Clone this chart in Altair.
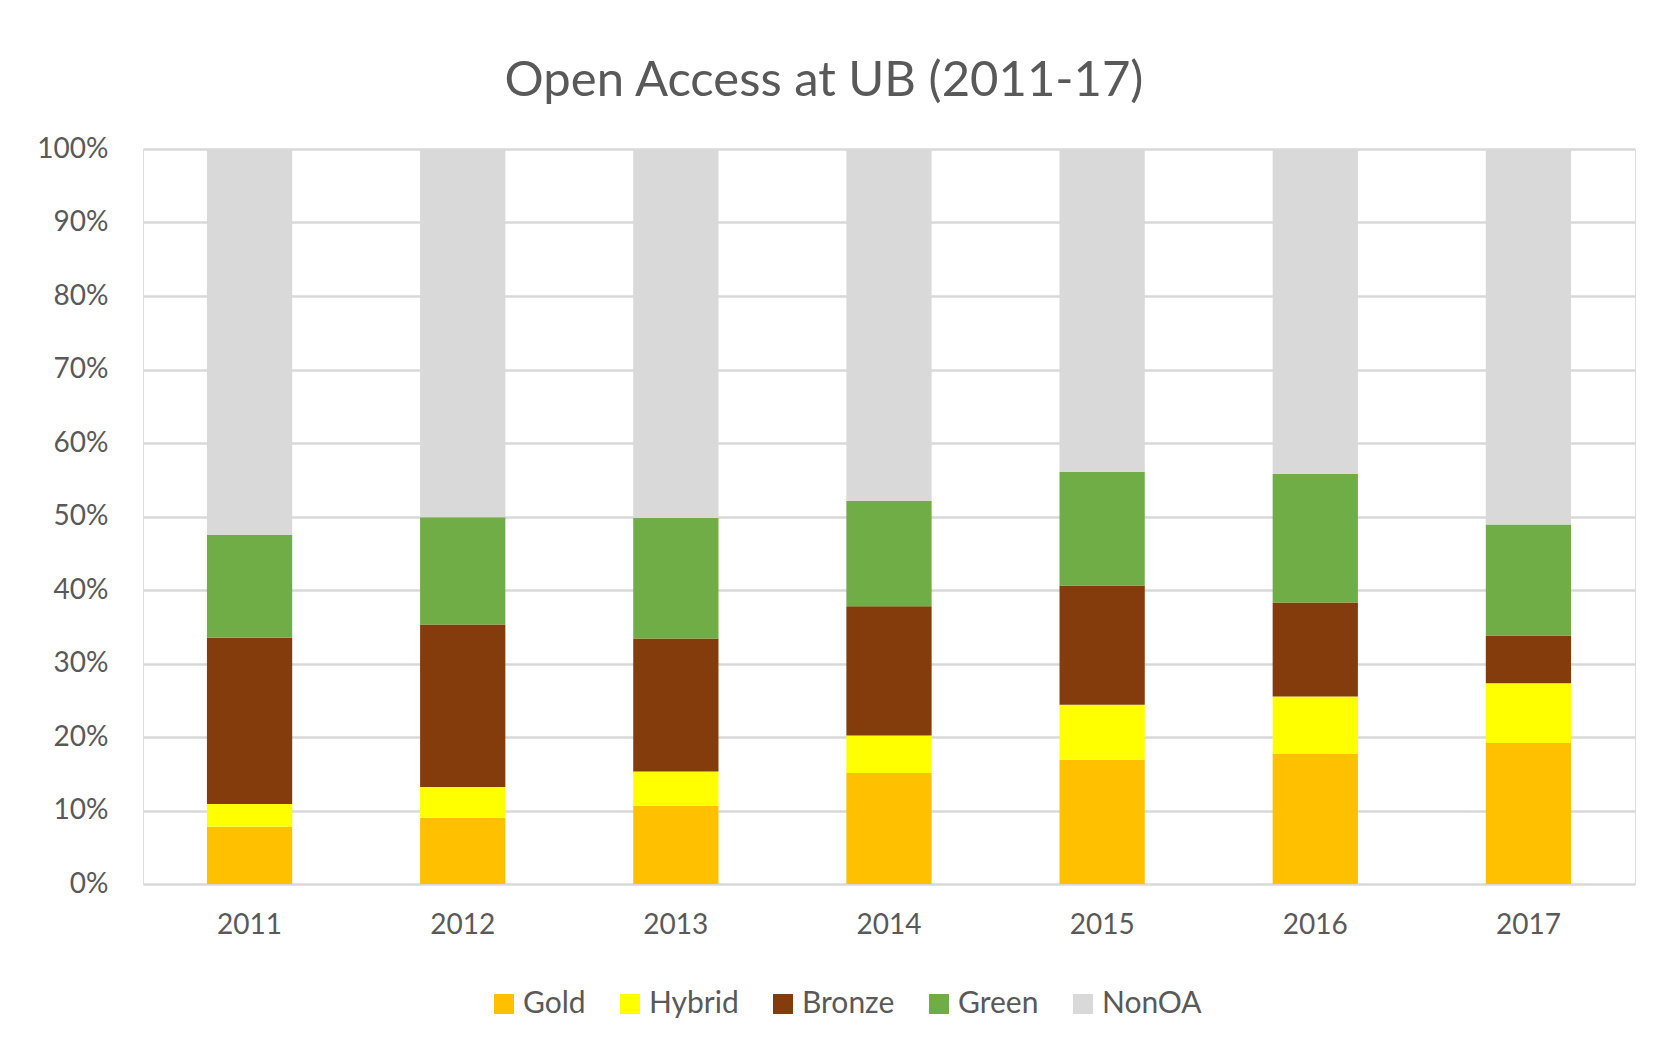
import altair as alt
import pandas as pd

years = ["2011", "2012", "2013", "2014", "2015", "2016", "2017"]
categories = ["Gold", "Hybrid", "Bronze", "Green", "NonOA"]
colors = ["#FFC000", "#FFFF00", "#843C0C", "#70AD47", "#D9D9D9"]

gold = [7.8, 9.0, 10.6, 15.1, 16.9, 17.7, 19.2]
hybrid = [3.1, 4.2, 4.7, 5.1, 7.5, 7.8, 8.1]
bronze = [22.6, 22.1, 18.1, 17.6, 16.2, 12.8, 6.5]
green = [14.0, 14.6, 16.4, 14.3, 15.5, 17.5, 15.1]
nonoa = [52.5, 50.1, 50.2, 47.9, 43.9, 44.2, 51.1]

series = {"Gold": gold, "Hybrid": hybrid, "Bronze": bronze, "Green": green, "NonOA": nonoa}
rows = []
for ci, cat in enumerate(categories):
    for yi, yr in enumerate(years):
        rows.append({"Year": yr, "Type": cat, "Share": series[cat][yi] / 100.0, "ord": ci})
df = pd.DataFrame(rows)

FONT = "Lato"
GRAY = "#595959"

chart = alt.Chart(df).mark_bar().encode(
    x=alt.X("Year:N", sort=years,
            scale=alt.Scale(paddingInner=0.6, paddingOuter=0.3),
            axis=alt.Axis(title=None, labelAngle=0, domain=False, ticks=False,
                          labelPadding=27, labelFontSize=28, labelColor=GRAY,
                          labelFont=FONT, grid=False)),
    y=alt.Y("Share:Q", stack="zero",
            scale=alt.Scale(domain=[0, 1], nice=False),
            axis=alt.Axis(title=None, format=".0%", values=[i / 10 for i in range(11)],
                          domain=False, ticks=False, labelPadding=35,
                          labelFontSize=28, labelColor=GRAY, labelFont=FONT,
                          gridColor="#D9D9D9", gridWidth=2.5)),
    color=alt.Color("Type:N", sort=categories,
                    scale=alt.Scale(domain=categories, range=colors),
                    legend=alt.Legend(title=None, orient="none", direction="horizontal",
                                      legendX=346, legendY=840,
                                      symbolType="square", symbolSize=400,
                                      symbolStrokeWidth=0, labelFontSize=30,
                                      labelColor=GRAY, labelFont=FONT,
                                      labelOffset=4, columnPadding=29)),
    order=alt.Order("ord:Q", sort="ascending"),
).properties(
    width=1492,
    height=735,
    title=alt.TitleParams(text="Open Access at UB (2011-17)", fontSize=49, font=FONT,
                          color=GRAY, fontWeight="normal", anchor="middle",
                          dx=-65, offset=29),
    autosize=alt.AutoSizeParams(type="none"),
    padding={"left": 135, "top": 141, "right": 14, "bottom": 150},
).configure_view(stroke=None).configure(background="white")

chart.save("out.html", embed_options={"renderer": "svg", "actions": False})
